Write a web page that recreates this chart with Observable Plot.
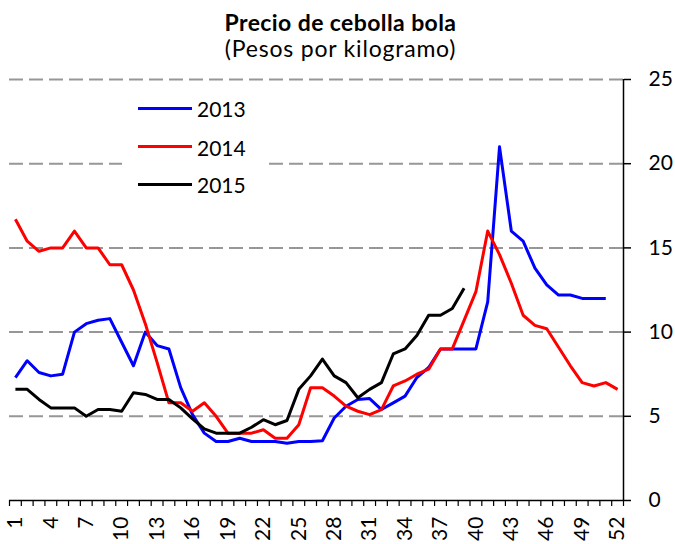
<!DOCTYPE html>
<html>
<head>
<meta charset="utf-8">
<script src="https://cdn.jsdelivr.net/npm/d3@7"></script>
<script src="https://cdn.jsdelivr.net/npm/@observablehq/plot@0.6"></script>
<style>
  html, body { margin: 0; padding: 0; background: #fff; }
  #wrap { position: relative; width: 675px; height: 544px; overflow: hidden; font-family: Lato, "Open Sans", sans-serif; }
  .title { position: absolute; left: 0; width: 681px; text-align: center; color: #000; font-size: 23px; line-height: 23px; white-space: nowrap; }
  #t1 { top: 11px; font-weight: bold; letter-spacing: 0.4px; }
  #t2 { top: 36.5px; letter-spacing: 0.8px; }
  #chart { position: absolute; left: 0; top: 64px; }
  #legend { position: absolute; left: 122px; top: 92px; width: 142px; height: 108px; background: #fff; }
  .lg-line { position: absolute; left: 16px; width: 54px; height: 3px; }
  .lg-text { position: absolute; left: 75px; font-size: 21px; line-height: 21px; color: #000; }
</style>
</head>
<body>
<div id="wrap">
  <div class="title" id="t1">Precio de cebolla bola</div>
  <div class="title" id="t2">(Pesos por kilogramo)</div>
  <div id="chart"></div>
  <div id="legend"></div>
</div>
<script>
const weeks = [1,2,3,4,5,6,7,8,9,10,11,12,13,14,15,16,17,18,19,20,21,22,23,24,25,26,27,28,29,30,31,32,33,34,35,36,37,38,39,40,41,42,43,44,45,46,47,48,49,50,51,52];
const labelWeeks = [1,4,7,10,13,16,19,22,25,28,31,34,37,40,43,46,49,52];
const yTicks = [0,5,10,15,20,25];
const seriesNames = ["2013","2014","2015"];
const seriesColors = ["#0000ff","#ff0000","#000000"];

const values2013 = [7.3,8.3,7.6,7.4,7.5,10.0,10.5,10.7,10.8,9.4,8.0,10.0,9.2,9.0,6.7,5.1,4.0,3.5,3.5,3.7,3.5,3.5,3.5,3.4,3.5,3.5,3.55,4.9,5.6,6.0,6.05,5.4,5.8,6.2,7.3,7.9,9.0,9.0,9.0,9.0,11.8,21.0,16.0,15.4,13.8,12.8,12.2,12.2,12.0,12.0,12.0,null];
const values2014 = [16.7,15.4,14.8,15.0,15.0,16.0,15.0,15.0,14.0,14.0,12.5,10.5,8.2,5.8,5.8,5.3,5.8,5.0,4.0,4.0,4.0,4.2,3.7,3.7,4.5,6.7,6.7,6.2,5.6,5.3,5.1,5.4,6.8,7.1,7.5,7.8,9.0,9.0,10.7,12.4,16.0,14.6,12.9,11.0,10.4,10.2,9.1,8.0,7.0,6.8,7.0,6.6];
const values2015 = [6.6,6.6,6.0,5.5,5.5,5.5,5.0,5.4,5.4,5.3,6.4,6.3,6.0,6.0,5.5,4.85,4.25,4.0,4.0,4.0,4.35,4.8,4.5,4.75,6.6,7.4,8.4,7.4,7.0,6.1,6.6,7.0,8.7,9.0,9.8,11.0,11.0,11.4,12.6];

const allValues = [values2013, values2014, values2015];
const rows = [];
allValues.forEach((vals, s) => vals.forEach((v, i) => {
  if (v != null) rows.push({week: weeks[i], value: v, series: seriesNames[s]});
}));
const boundaries = weeks.map(w => w - 0.5).concat([weeks[weeks.length - 1] + 0.5]);
const xDomain = [boundaries[0], boundaries[boundaries.length - 1]];
const gridValues = yTicks.filter(v => v > 0);

const chart = Plot.plot({
  width: 675,
  height: 480,
  marginTop: 15,
  marginBottom: 44,
  marginLeft: 9,
  marginRight: 52,
  style: {fontFamily: "Lato, 'Open Sans', sans-serif", fontSize: "21px", color: "#000", background: "transparent", overflow: "visible"},
  x: {type: "linear", domain: xDomain, label: null},
  y: {domain: [0, 25], label: null},
  color: {domain: seriesNames, range: seriesColors},
  marks: [
    Plot.ruleY(gridValues, {stroke: "#979797", strokeWidth: 2, strokeDasharray: "14,6"}),
    Plot.line(rows, {x: "week", y: "value", z: "series", stroke: "series", strokeWidth: 3, strokeLinejoin: "round", strokeLinecap: "butt"}),
    Plot.ruleY([0], {stroke: "#000", strokeWidth: 1.5}),
    Plot.ruleX([xDomain[1]], {y1: 0, y2: 25, stroke: "#000", strokeWidth: 1.5}),
    Plot.axisX(boundaries, {anchor: "bottom", tickSize: 6, tickFormat: () => "", stroke: "#000", strokeWidth: 1.2, label: null}),
    Plot.axisX(labelWeeks, {anchor: "bottom", tickSize: 0, tickPadding: 16, tickRotate: -90, fill: "#000", label: null}),
    Plot.axisY(yTicks, {anchor: "right", tickSize: 7, tickPadding: 18, stroke: "#000", strokeWidth: 1.5, fill: "#000", label: null})
  ]
});
document.getElementById("chart").appendChild(chart);

const legend = document.getElementById("legend");
const legendLineTops = [14.8, 53.2, 90.8];
seriesNames.forEach((name, i) => {
  const ln = document.createElement("div");
  ln.className = "lg-line";
  ln.style.top = legendLineTops[i] + "px";
  ln.style.background = seriesColors[i];
  legend.appendChild(ln);
  const tx = document.createElement("div");
  tx.className = "lg-text";
  tx.style.top = (legendLineTops[i] - 8.7) + "px";
  tx.textContent = name;
  legend.appendChild(tx);
});
</script>
</body>
</html>
